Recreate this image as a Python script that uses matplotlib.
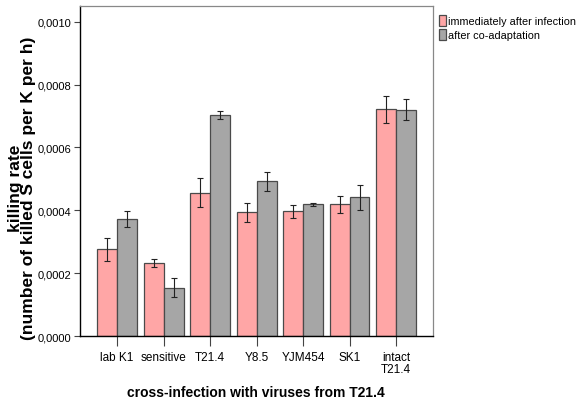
import matplotlib
matplotlib.use("Agg")
import matplotlib.pyplot as plt
import numpy as np

plt.rcParams['font.family'] = ['Liberation Sans', 'DejaVu Sans']

# killing rates per virus source, two time points
categories = ['lab K1', 'sensitive', 'T21.4', 'Y8.5', 'YJM454', 'SK1', 'intact\nT21.4']
immediate = [0.000276, 0.000232, 0.000456, 0.000393, 0.000397, 0.000419, 0.000722]
immediate_err = [0.000037, 0.000013, 0.000047, 0.000030, 0.000020, 0.000028, 0.000043]
coadapt = [0.000373, 0.000154, 0.000703, 0.000492, 0.000419, 0.000441, 0.000720]
coadapt_err = [0.000025, 0.000030, 0.000014, 0.000030, 0.000004, 0.000040, 0.000033]
series_names = ['immediately after infection', 'after co-adaptation']
yticks = [0.0, 0.0002, 0.0004, 0.0006, 0.0008, 0.0010]

fig = plt.figure(figsize=(5.78, 4.10), dpi=100)
ax = fig.add_axes([0.1384, 0.178, 0.611, 0.805])

x = np.arange(len(categories))
w = 0.43
err_kw = dict(ecolor='#222222', elinewidth=0.8, capsize=2.5, capthick=0.8)
ax.bar(x - w / 2, immediate, w, yerr=immediate_err, color='#ffa6a6',
       edgecolor='#4a4a4a', linewidth=0.9, label=series_names[0], error_kw=err_kw)
ax.bar(x + w / 2, coadapt, w, yerr=coadapt_err, color='#a6a6a6',
       edgecolor='#4a4a4a', linewidth=0.9, label=series_names[1], error_kw=err_kw)

ax.set_xlim(-0.8, len(categories) - 0.2)
ax.set_ylim(0, 0.00105)
ax.set_xticks(x)
ax.set_xticklabels(categories, fontsize=8.5, linespacing=0.95)
ax.set_yticks(yticks)
ax.set_yticklabels([f'{v:.4f}'.replace('.', ',') for v in yticks], fontsize=8)
ax.tick_params(axis='x', length=7, width=0.8, color='#444444', pad=4)
ax.tick_params(axis='y', length=4, width=0.8, color='#444444', pad=2)

for side in ['left', 'bottom']:
    ax.spines[side].set_color('black')
    ax.spines[side].set_linewidth(1.0)
for side in ['top', 'right']:
    ax.spines[side].set_color('#888888')
    ax.spines[side].set_linewidth(0.9)

# axis titles placed in figure coordinates
fig.text(256 / 578, 1 - 393 / 410, 'cross-infection with viruses from T21.4',
         fontsize=10, fontweight='bold', ha='center', va='center')
fig.text(22 / 578, 1 - 188 / 410, 'killing rate\n(number of killed S cells per K per h)',
         fontsize=12.5, fontweight='bold', rotation=90, ha='center', va='center',
         multialignment='center', linespacing=0.78)

ax.legend(loc='upper left', bbox_to_anchor=(1.0, 0.99), frameon=False, fontsize=7.8,
          handlelength=0.6, handleheight=1.2, handletextpad=0.25, borderaxespad=0.15,
          labelspacing=0.2)

fig.savefig('out.png', dpi=100)
